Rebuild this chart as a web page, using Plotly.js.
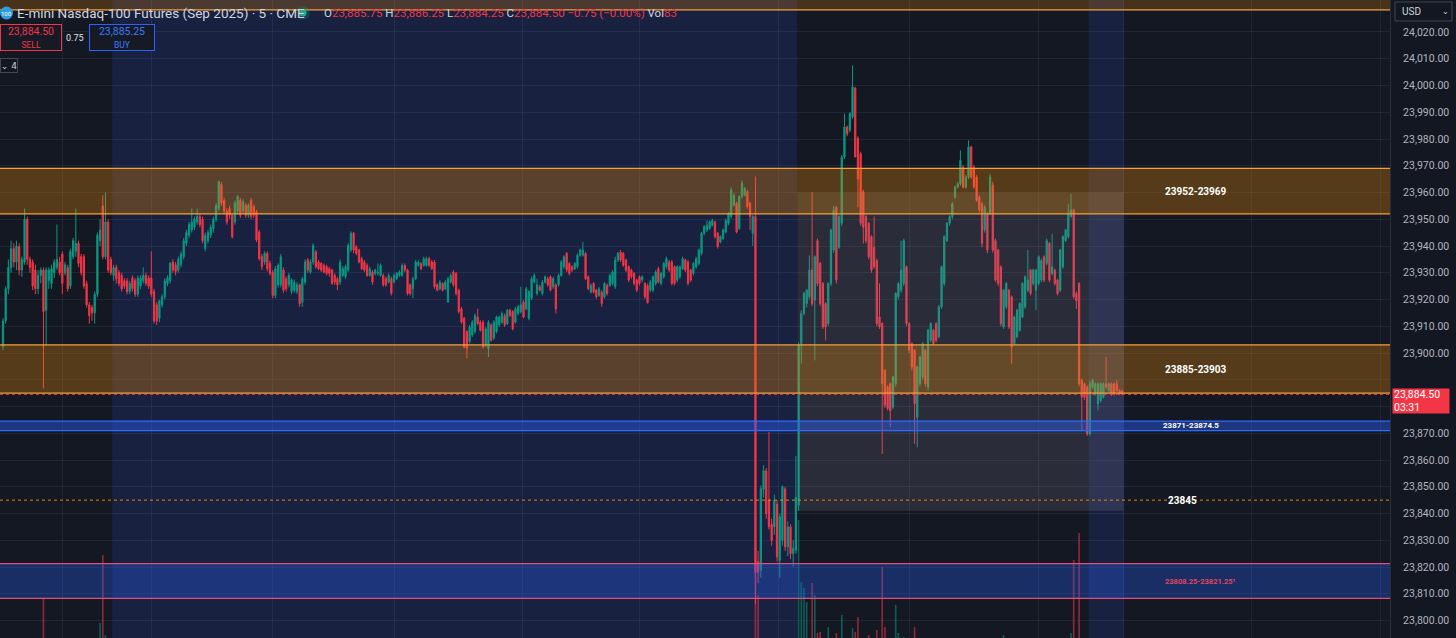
<!DOCTYPE html>
<html><head><meta charset="utf-8">
<script src="https://cdn.plot.ly/plotly-3.0.1.min.js"></script>
<style>html,body{margin:0;padding:0;background:#131722;overflow:hidden}#chart{width:1456px;height:638px}</style>
</head><body><div id="chart"></div>
<script>
// ---- 5-minute candles (oldest -> newest) ----
const openP = [
23902.5,23912,23924,23932,23939,23934,23939.75,23931,23934,23950,
23935,23934,23931,23924,23929,23931,23916,23927,23926,23930,
23932,23934,23937,23930,23932,23925,23936,23938,23941,23936,
23936,23926,23918,23917,23915,23922,23942,23955,23936,23949,
23935,23929,23932,23930,23929,23927,23927,23923,23928,23927,
23922,23925,23927,23929,23928,23928,23923,23918,23913,23918,
23921,23926,23927,23934,23933,23931,23933,23936,23941,23944,
23946,23947,23949,23951,23950,
23939,23942,23944,23946.5,23950,23954,23963,23957,23953,23954,
23951.5,23949,23953,23957,23953,23955.25,23951.5,23957,23954.75,23952.75,
23945.25,23936,23934,23937.25,23933.5,23930.25,23921.5,23925.5,23925.5,23931,
23927.75,23925.5,23923,23923.5,23923,23925.5,23919,23926.5,23934.75,23930.25,
23934,23937.75,23934,23933.5,23932.75,23932.25,23931.5,23931,23929,23927.75,
23926.5,23929,23928.5,23931,23938.5,23944.75,23939.75,23938.5,23935.25,23934,23932.75,23929,23930.25,
23929.75,23929.75,23929,23929,23927.75,23926.5,23927.75,23926.5,23927.75,23929,
23929,23932.75,23931,23925.5,23924,23927.75,23932.75,23933.5,23932.75,23932.75,
23935.25,23934,23934,23925.5,23924,23926,23924,23919,23926.5,23930.25,
23929.75,23923.5,23916.5,23913,23908,23904.25,23906.75,23908,23913.5,23911.5,
23911.5,23903,23901.75,23910.5,23905.5,23908,23910.5,23911.5,23914,23911,
23916,23915.5,23911.5,23914.75,23915.5,23919,23916.5,23913,23920.5,23926.5,
23922.25,23924.75,23922.25,23926.5,23927.75,23928.5,23924.75,23925.5,23925.5,23929,
23932.25,23937.25,23933.5,23932.25,23931.5,23932.25,23936.5,23936.5,23937.25,23928.5,
23922.75,23926,23923.5,23921.5,23922.75,23921,23925.25,23925.25,23926,23924.75,
23934.75,23937.75,23937.25,23934.75,23932.25,23931,23929.75,23927.25,23928.5,23927.25,
23926,23925.25,23923.5,23923.5,23926,23931.5,23926,23928.5,23932.25,23934,
23934,23932.25,23927.25,23928.5,23931.5,23934.75,23934,23931,23929.75,23932.25,
23933.5,23937.25,23944.75,23946,23946.5,23947.75,23949,23944.75,23941.5,23942.75,
23945.25,23948.5,23951,23955.25,23956,23946.5,23958.5,23959,23960.25,23956,23944.75,23951,
23822,23818.75,23849,23856,23845,23836,23835,23843.5,23822.5,23830,23849.25,23827.5,23835,23825,23826.25,23843,
23903.5,23914.75,23918.5,23921,23931,23919.75,23942,23933.5,23926,23918.5,
23911,23926,23938.5,23954.5,23939.5,23948.5,23973.25,23984.5,23983.25,23988.25,
23999,23980.25,23974.5,23960.25,23951,23948.5,23943.5,23939.5,23934.5,23913.5,
23911,23893.5,23887.25,23888.5,23879.75,23888.5,23921,23923.5,23926,23932.25,
23911,23903.5,23901,23876,23888.5,23891,23901,23887.25,23904.75,23908.5,
23911,23906,23917.25,23926,23942,23948.5,23951,23958.25,
23962,23963.25,23969.5,23962,23965.75,23977,23969.5,23965.75,23958.25,23955.75,
23946,23952,23952,23962.75,23942,23938.5,23932.25,23909.75,23917.25,23923.5,
23921,23903.5,23906,23908.5,23913.5,23917.25,23923.5,23931,23926,23923.5,
23926,23927.25,23936,23933.5,23941,23929.75,23931,23927.25,
23923.5,23932.25,23942,23943.5,23951,23953.5,23922.25,23926,23889.75,23888.5,
23887.25,23869.75,23887.25,23884.75,23881,23882.25,23883.5,23888.5,23886,23888.5,
23888.5,23888.5,23886,23885.75
];
const highP = [
23913,23925,23935,23942,23941,23942,23941,23936,23954,23951,
23936,23935,23933,23931,23932,23932,23932,23932,23933,23935,
23948,23936,23938,23934,23933,23939,23943,23954,23942,23937,
23937,23927,23919,23918,23923,23945,23950,23959,23960,23950,
23936,23933,23933,23931,23930,23928,23928,23927,23929,23928,
23929,23929,23932,23930,23929,23938,23924,23919,23920,23922,
23928,23929,23934,23935,23934,23936,23938,23943,23946,23949,
23954,23951,23954,23952,23951,
23945,23946,23948,23951,23956,23964.5,23964,23958,23954,23955,
23952,23957,23959,23958,23957.5,23956,23956,23958,23955.5,23953.5,
23946,23937,23938,23938,23934.5,23931,23932.5,23933.5,23937,23932,
23928.5,23930,23928,23927.5,23926.5,23926,23928.5,23935,23935.5,23935,
23941,23938.5,23934.75,23934,23933.5,23933,23932.25,23931.5,23929.75,23928.5,
23935,23932.5,23933,23941,23945.5,23945.25,23940.25,23939,23936,23934.75,23933.5,23932.25,23931,
23931.5,23933.5,23933.5,23929.75,23928.5,23929.75,23928.5,23929.75,23930.25,23931,
23933.5,23933.5,23931.5,23926,23928.5,23934.75,23934.75,23934,23936,23936,
23936,23934.75,23934.75,23926,23927.25,23926.5,23927.25,23928.5,23929.75,23931,
23930.25,23924,23917.25,23913.5,23908.5,23910.5,23912.25,23914.75,23916.5,23912.25,
23912.25,23909.75,23912.25,23911,23912.25,23914,23914,23915.5,23914.75,23916.5,
23916.5,23916,23917.25,23918,23924.75,23919.75,23924.75,23923.5,23928.5,23929.75,
23927.75,23925.5,23927.25,23929,23928.5,23929,23928.5,23926,23929.75,23934.75,
23936.5,23937.75,23934,23932.75,23934,23937.25,23939,23941.5,23937.75,23929,
23926,23926.5,23924,23924.75,23923.5,23926.5,23926,23929.75,23931,23936,
23937.75,23938.5,23937.75,23935.25,23932.75,23931.5,23930.25,23927.75,23929,23929,
23926.5,23926,23927.25,23929,23931,23932.25,23930.25,23934,23936,23934.75,
23934.75,23932.75,23932.75,23932.75,23936,23935.25,23934.75,23931.5,23934,23936,
23939,23945.25,23947.75,23949.5,23949.5,23950.25,23949.5,23945.25,23944,23946.5,
23950.25,23952.75,23962,23959.75,23956.5,23959,23964.5,23962,23961,23956.5,23951.5,23966,
23826,23850.5,23858,23857,23870.5,23838,23847,23845,23840,23850.5,23850,23837,23836,23830,23861.5,23904,
23916,23923,23924,23936.5,23960.25,23936.5,23942.75,23934,23926.5,23919,
23926.5,23946.5,23955,23955,23951.5,23974,23989.5,23985,23990,24007.5,
23999.5,23981,23975.25,23961,23951.5,23949,23944,23951,23935.25,23926,
23911.5,23894,23888,23889,23891.5,23922.75,23926.5,23942,23942.75,23932.75,
23911.5,23904,23901.5,23895.25,23899,23904,23901.5,23909,23911.5,23909,
23911.5,23918,23932.75,23944,23949,23951.5,23956.5,23962.75,
23964,23975.75,23970.25,23966.5,23979.5,23977.5,23970.25,23966.5,23959,23956.5,
23955.25,23952.75,23967,23964,23942.75,23939,23932.75,23924,23926.5,23924,
23921.5,23914,23916.5,23919,23926.5,23929,23938.5,23931.5,23931.5,23931.5,
23936.5,23935.25,23936.5,23942.75,23941.5,23944.5,23931.5,23927.75,
23939,23944,23946.5,23955.75,23959.5,23954,23923,23926.5,23890.5,23889,
23888,23889.75,23890.5,23889,23889,23889,23889,23898.5,23889,23889,
23889,23889.75,23886.5,23886.25
];
const lowP = [
23901,23911,23922,23930,23932,23931,23929,23928.5,23933,23933,
23930,23923.5,23922,23922,23926,23886.75,23903,23924,23924,23928,
23931,23929,23922,23929,23923,23924,23935,23936,23932,23929,
23924,23917,23911,23912,23911,23921,23940,23935,23935,23930,
23929,23927,23926,23925,23923,23924,23922,23922,23923,23921,
23921,23924,23926,23925,23924,23921,23911,23910.5,23911.5,23917,
23920,23925,23926,23930,23929,23930,23932,23935,23940,23943,
23945,23946,23948,23947,23941,
23938,23941,23943,23945,23949,23953,23955,23952,23948,23950,
23942.75,23948,23952,23950.5,23952,23950.5,23950.5,23950,23950.5,23941.5,
23934.5,23931,23933,23930.5,23929,23920.5,23920.5,23924.5,23924.5,23922.5,
23923,23924.5,23922,23922.5,23922,23917.25,23917.25,23925.5,23930,23929.5,
23933,23931.5,23931,23930.25,23929.75,23929,23928.5,23925.5,23925.5,23923.5,
23925.5,23928.5,23927.75,23930.25,23937.75,23937.25,23936.5,23933.5,23931,23930.25,23928.5,23928.5,23925.5,
23929,23929,23928.5,23924.75,23924.75,23926,23921.5,23926,23927.25,23928.5,
23928.5,23930.25,23921.5,23921.5,23920.5,23927.25,23932.25,23931,23932.25,23932.25,
23932.25,23931,23924,23923,23923.5,23923,23923.5,23919,23926,23924.75,
23921.5,23914.75,23911,23901.75,23898,23903.5,23906,23907.25,23910.5,23908,
23901.75,23902.25,23898.5,23904.25,23904.75,23907.25,23909.75,23911,23909.75,23910.5,
23913.5,23908.5,23911,23914,23914.75,23913,23916,23912.25,23919.75,23926,
23921.5,23923,23921.5,23926,23924.75,23923,23924,23914.75,23924.75,23928.5,
23931.5,23930.25,23929,23930.25,23931,23931.5,23936,23936,23927.25,23923.5,
23922.25,23922.25,23920.25,23921,23917.25,23920.25,23921.5,23924.75,23925.25,23924,
23934,23934,23932.25,23930.25,23926.5,23927.75,23925.25,23922.75,23925.25,23926.5,
23920.25,23918.5,23922.75,23922.75,23925.25,23926,23925.25,23927.75,23931.5,23930.25,
23925.25,23925.25,23926.5,23927.75,23931,23930.25,23925.25,23926.5,23929,23931.5,
23932.75,23936.5,23944,23945.25,23946,23947.25,23942.75,23939,23941,23942.25,
23944.75,23947.75,23950.25,23954.75,23944.75,23946,23957.75,23958.5,23954,23946,23940,23806,
23814,23816,23846,23838,23834,23828,23832,23822,23816,23828,23826,23824,23823,23820,23825,23841,
23896,23914,23917,23920,23917.5,23897.25,23925,23917.5,23909,23904.75,
23910,23925,23937.5,23926,23939,23947.5,23972.5,23981,23982.5,23987.5,
23973.25,23954.5,23947.5,23941,23941,23935,23930,23931.5,23910,23909,
23862.25,23879.5,23878.5,23872.25,23879,23887.5,23920,23922.5,23925,23910,
23900,23893.5,23866,23864.75,23887.5,23890,23887.5,23886,23904,23903,
23904,23905.5,23916.5,23925,23941.5,23947.5,23950,23957.5,
23961.5,23962.5,23961.5,23961.5,23965,23965,23961.5,23956.5,23952.5,23939.5,
23945,23937.25,23951.5,23937.5,23926.5,23925,23910,23909,23916.5,23909,
23896,23903,23905.5,23908,23913,23916.5,23922.75,23921.5,23925.25,23916,
23925.25,23926.5,23926.5,23932.75,23926.5,23929,23925.25,23921.5,
23922.75,23931.5,23941.5,23942.75,23950.5,23920.25,23916.5,23887.5,23871,23882.5,
23869,23869,23886.5,23884,23878.5,23881.5,23883,23886.5,23885.5,23884,
23884,23885.5,23884.25,23884.25
];
const closeP = [
23912,23924,23932,23939,23934,23940,23931,23935,23950,23935,
23932,23925,23924,23929,23931,23915.5,23931,23931,23931.5,23934,
23935,23930,23926,23933,23924,23938,23942,23941,23933.5,23930,
23925,23918,23914,23915,23922,23944,23946,23936,23949,23931,
23930,23932,23927.75,23926,23924,23925,23923,23926,23924,23922,
23928,23928,23929,23926,23925,23922,23912,23912,23919.5,23921,
23927,23928,23933.5,23931,23930.5,23935,23937,23942,23945,23948,
23949,23950,23951,23948,23942,
23944,23945,23947,23950,23955,23964,23956,23953,23949,23951.5,
23943.5,23956,23958.5,23951.5,23956.5,23951.5,23955.25,23951,23951.5,23942.25,
23935.25,23932.25,23937.25,23931.5,23929.75,23921.5,23931.5,23932.75,23936,23923.5,
23924,23929,23927.25,23926.5,23925.5,23918.5,23927.75,23934,23931,23934,
23940.25,23932.25,23931.5,23931,23930.25,23929.75,23929.75,23926,23926.5,23925.5,
23934,23931.5,23932.25,23940.25,23944.75,23938.5,23937.25,23934,23931.5,23931,23929,23931.5,23926.5,
23931,23930.25,23932.75,23925.5,23925.5,23929,23922.25,23929,23929.75,23930.25,
23932.75,23931,23922.25,23922.25,23927.75,23934,23934,23931.5,23935.25,23935.25,
23932.75,23931.5,23924.75,23923.5,23926.5,23923.5,23926.5,23927.75,23929,23925.5,
23922.25,23915.5,23911.5,23902.25,23901.75,23909.75,23911.5,23914,23911,23908.5,
23902.25,23909,23911.5,23904.75,23911.5,23913.5,23913.5,23914.75,23910.5,23916,
23914,23909,23916.5,23917.25,23918,23913.5,23924,23923,23927.75,23929,
23925.5,23923.5,23926.5,23928.5,23925.5,23923.5,23927.75,23916.5,23929,23934,
23936,23931,23929.75,23931,23933.5,23936.5,23938.5,23938.5,23927.75,23924,
23925.25,23922.75,23921,23924,23918.5,23926,23922.25,23929,23930.25,23934.75,
23937.25,23934.75,23932.75,23931,23927.25,23928.5,23926,23923.5,23926,23928.5,
23921,23918.75,23926.5,23928.5,23930.25,23926.5,23929.75,23933.5,23935.25,23931,
23926,23926,23932.25,23932.25,23935.25,23931,23926,23927.25,23933.5,23935.25,
23938.5,23944.75,23947.25,23947.75,23949,23949.5,23943.5,23939.75,23943.5,23946,
23949.5,23952.25,23961,23959,23945.25,23958.5,23963.5,23961.5,23954.75,23951,23951,23818,
23818,23849.25,23856,23840,23835,23830,23845,23823.75,23838.75,23850,23827.5,23835,23825,23827,23846,23903,
23914.75,23922.25,23923.5,23931,23918.5,23936,23926,23918.5,23909.75,23909.75,
23926,23946,23953.5,23927.25,23951,23973.25,23984.5,23982,23989.5,23999.5,
23973.25,23965,23948.5,23947,23942,23936,23931,23932.25,23911,23909.75,
23888.5,23880.5,23879.25,23878.5,23891,23922.25,23926,23931,23942,23911,
23901,23894.75,23881,23894.75,23898.5,23903.5,23888.5,23908.5,23911,23903.5,
23904.75,23917.25,23932.25,23943.5,23948.5,23951,23955.75,23962,
23963.25,23972,23962,23965.75,23977,23965.75,23962,23957,23953.5,23941,
23954.5,23938.5,23965.75,23938.5,23927.25,23926,23911,23923.5,23926,23909.75,
23902.25,23913.5,23916,23918.5,23926,23928.5,23927.25,23922.25,23931,23931,
23936,23934.5,23927.25,23942,23927.25,23932.25,23926,23922.25,
23938.5,23943.5,23946,23952,23953.5,23921,23919.5,23888.5,23883.5,23883.5,
23869.75,23888.5,23889.75,23888.5,23888.5,23888.5,23888.5,23887.25,23888.5,23884.75,
23884.75,23886,23884.75,23884.5
];

// volume bars that rise into view (the rest sit below the visible pane edge)
const volIdx = [15, 36, 37, 38, 279, 280, 295, 296, 297, 298, 300, 301, 302, 303, 306, 309, 311, 315, 316, 317, 321, 324, 326, 327, 331, 332, 334, 338, 371, 396, 397, 399];
const volVal = [4000, 2750, 6150, 2150, 12000, 4150, 7900, 4800, 4500, 3800, 4750, 4150, 2250, 2300, 2550, 2250, 3150, 2500, 2300, 3050, 2150, 2400, 5550, 2550, 3650, 2250, 2050, 2550, 2150, 2250, 5900, 7250];

// drawn zones (price ranges) and their labels
const zoneLow    = [23952, 23885, 23871, 23808.25, 24028.25];
const zoneHigh   = [23969, 23903, 23874.5, 23821.25, 24060];
const zoneLabels = ['23952-23969', '23885-23903', '23871-23874.5', '23808.25-23821.25\u00b9', ''];
const levelPrice = 23845;
const levelLabel = '23845';
const lastPrice = 23884.5;
const lastPriceText = '23,884.50';
const countdown = '03:31';

// price axis ticks
const priceTicks = [23800, 23810, 23820, 23830, 23840, 23850, 23860, 23870, 23880, 23890, 23900, 23910,
  23920, 23930, 23940, 23950, 23960, 23970, 23980, 23990, 24000, 24010, 24020];

// shaded price/time box (candle index range, price range)
const boxIdx = [294.6, 415.5];
const boxPrice = [23841, 23960];

// session background spans (candle index)
const sessionSpans = [[40.5, 294.5], [402.5, 415.7]];
// vertical grid line positions (candle index)
const gridIdx = [22, 55, 100, 145, 192.5, 236, 287.5, 336, 384, 415.3, 463.1, 510.6];

// header
const symbolTitle = 'E-mini Nasdaq-100 Futures (Sep 2025) \u00b7 5 \u00b7 CME';
const ohlcLetters = ['O', 'H', 'L', 'C'];
const ohlcValues = ['23,885.75', '23,886.25', '23,884.25', '23,884.50'];
const changeText = '\u22120.75 (\u22120.00%)';
const volText = '83';
const sellPrice = '23,884.50', buyPrice = '23,885.25', spreadText = '0.75';

// ---------- drawing ----------
const N = Math.min(openP.length, highP.length, lowP.length, closeP.length);
const xIdx = Array.from({length: N}, (_, i) => i);
const UP = '#089981', DN = '#f23645';
const FONT = 'Roboto, "Liberation Sans", Arial, sans-serif';
const PW = 1390, PH = 638;
const px = v => v / PW, py = v => 1 - v / PH;
const fmt = v => v.toLocaleString('en-US', {minimumFractionDigits: 2, maximumFractionDigits: 2});

const volColors = volIdx.map(i => closeP[i] >= openP[i] ? 'rgba(8,153,129,0.55)' : 'rgba(242,54,69,0.55)');

const traces = [
  {type: 'bar', x: volIdx, y: volVal, yaxis: 'y', xaxis: 'x', width: 0.6,
   marker: {color: volColors, line: {width: 0}}, hoverinfo: 'skip', showlegend: false},
  {type: 'candlestick', x: xIdx, open: openP.slice(0, N), high: highP.slice(0, N), low: lowP.slice(0, N), close: closeP.slice(0, N),
   xaxis: 'x', yaxis: 'y2', whiskerwidth: 0,
   increasing: {line: {color: UP, width: 1}, fillcolor: UP},
   decreasing: {line: {color: DN, width: 1}, fillcolor: DN},
   hoverinfo: 'skip', showlegend: false}
];

const shapes = [];
sessionSpans.forEach(s => shapes.push({type: 'rect', xref: 'x', yref: 'paper', x0: s[0], x1: s[1], y0: 0, y1: 1,
  fillcolor: '#192141', line: {width: 0}, layer: 'below'}));
shapes.push({type: 'rect', xref: 'x', yref: 'y2', x0: boxIdx[0], x1: boxIdx[1], y0: boxPrice[0], y1: boxPrice[1],
  fillcolor: 'rgba(128,132,146,0.2)', line: {width: 0}, layer: 'above'});
const zoneFill = ['rgba(255,152,0,0.28)', 'rgba(255,152,0,0.28)', 'rgba(41,98,255,0.42)', 'rgba(41,98,255,0.30)', 'rgba(255,152,0,0.22)'];
const zoneLine = ['#f5a03a', '#f5a03a', '#2f6bff', '#e0507a', '#f5a03a'];
zoneLow.forEach((lo, k) => {
  const hi = zoneHigh[k];
  shapes.push({type: 'rect', xref: 'paper', yref: 'y2', x0: 0, x1: 1, y0: lo, y1: hi, fillcolor: zoneFill[k], line: {width: 0}, layer: 'above'});
  shapes.push({type: 'line', xref: 'paper', yref: 'y2', x0: 0, x1: 1, y0: lo, y1: lo, line: {color: zoneLine[k], width: 1.2}, layer: 'above'});
  shapes.push({type: 'line', xref: 'paper', yref: 'y2', x0: 0, x1: 1, y0: hi, y1: hi, line: {color: zoneLine[k], width: 1.2}, layer: 'above'});
});
shapes.push({type: 'line', xref: 'paper', yref: 'y2', x0: 0, x1: 1, y0: levelPrice, y1: levelPrice,
  line: {color: 'rgba(255,152,0,0.85)', width: 1, dash: 'dot'}, layer: 'above'});
shapes.push({type: 'line', xref: 'paper', yref: 'y2', x0: 0, x1: 1, y0: lastPrice, y1: lastPrice,
  line: {color: 'rgba(242,54,69,0.9)', width: 1, dash: 'dot'}, layer: 'above'});
shapes.push({type: 'circle', xref: 'paper', yref: 'paper', xsizemode: 'pixel', ysizemode: 'pixel',
  xanchor: px(6.5), yanchor: py(13), x0: -6.5, x1: 6.5, y0: -6.5, y1: 6.5, fillcolor: '#2f9be0', line: {width: 0}});
shapes.push({type: 'circle', xref: 'paper', yref: 'paper', xsizemode: 'pixel', ysizemode: 'pixel',
  xanchor: px(303), yanchor: py(13), x0: -7, x1: 7, y0: -7, y1: 7, fillcolor: 'rgba(8,153,129,0.22)', line: {width: 0}});
shapes.push({type: 'circle', xref: 'paper', yref: 'paper', xsizemode: 'pixel', ysizemode: 'pixel',
  xanchor: px(303), yanchor: py(13), x0: -3.5, x1: 3.5, y0: -3.5, y1: 3.5, fillcolor: '#22ab94', line: {width: 0}});
shapes.push({type: 'rect', xref: 'paper', yref: 'paper', x0: px(1395), x1: px(1452), y0: py(21), y1: py(2),
  fillcolor: '#131722', line: {color: '#434651', width: 1}});

const g = (t, c) => `<span style="color:${c}">${t}</span>`;
const GRY = '#d1d4dc';
let ohlcText = '';
ohlcLetters.forEach((l, k) => { ohlcText += g(l, GRY) + g(ohlcValues[k], DN) + ' '; });
ohlcText += g(changeText, DN) + ' ' + g('Vol', GRY) + g(volText, DN);

const ann = [];
ann.push({xref: 'paper', yref: 'paper', x: px(6.5), y: py(13), text: '100', showarrow: false, font: {family: FONT, size: 6, color: '#ffffff'}, xanchor: 'center', yanchor: 'middle'});
ann.push({xref: 'paper', yref: 'paper', x: px(15), y: py(13), text: symbolTitle, showarrow: false, xanchor: 'left', yanchor: 'middle', font: {family: FONT, size: 13.5, color: '#d1d4dc'}});
ann.push({xref: 'paper', yref: 'paper', x: px(322), y: py(13), text: ohlcText, showarrow: false, xanchor: 'left', yanchor: 'middle', font: {family: FONT, size: 11.5, color: GRY}});
ann.push({xref: 'paper', yref: 'paper', x: px(31), y: py(38), text: sellPrice + '<br><span style="font-size:8.5px">SELL</span>', showarrow: false,
  xanchor: 'center', yanchor: 'middle', align: 'center', width: 58, height: 23, bgcolor: '#161a25', bordercolor: DN, borderwidth: 1, borderpad: 1,
  font: {family: FONT, size: 10.5, color: '#f23645'}});
ann.push({xref: 'paper', yref: 'paper', x: px(75), y: py(38), text: spreadText, showarrow: false, xanchor: 'center', yanchor: 'middle', font: {family: FONT, size: 9, color: '#e0e3eb'}});
ann.push({xref: 'paper', yref: 'paper', x: px(122), y: py(38), text: buyPrice + '<br><span style="font-size:8.5px">BUY</span>', showarrow: false,
  xanchor: 'center', yanchor: 'middle', align: 'center', width: 62, height: 23, bgcolor: '#161a25', bordercolor: '#2962ff', borderwidth: 1, borderpad: 1,
  font: {family: FONT, size: 10.5, color: '#3b7bff'}});
ann.push({xref: 'paper', yref: 'paper', x: px(9), y: py(66), text: '\u2304 4', showarrow: false, xanchor: 'center', yanchor: 'middle',
  width: 16, height: 13, bgcolor: '#131722', bordercolor: '#434651', borderwidth: 1, borderpad: 0,
  font: {family: 'DejaVu Sans, ' + FONT, size: 9, color: '#d1d4dc'}});
ann.push({xref: 'paper', yref: 'paper', x: px(1400), y: py(11.5), text: 'USD', showarrow: false, xanchor: 'left', yanchor: 'middle', font: {family: FONT, size: 10, color: '#d1d4dc'}});
ann.push({xref: 'paper', yref: 'paper', x: px(1445), y: py(11), text: '\u2304', showarrow: false, xanchor: 'center', yanchor: 'middle', font: {family: 'DejaVu Sans', size: 8, color: '#d1d4dc'}});
const labelX = [1196, 1196, 1191, 1200, 0];
const labelSize = [10, 10, 8, 7.5, 10];
const labelColor = ['#ffffff', '#ffffff', '#ffffff', '#e2455f', '#ffffff'];
zoneLabels.forEach((t, k) => {
  if (!t) return;
  ann.push({xref: 'paper', yref: 'y2', x: px(labelX[k]), y: (zoneLow[k] + zoneHigh[k]) / 2, text: '<b>' + t + '</b>', showarrow: false,
    xanchor: 'center', yanchor: 'middle', font: {family: FONT, size: labelSize[k], color: labelColor[k]}});
});
ann.push({xref: 'paper', yref: 'y2', x: px(1182), y: levelPrice, text: '<b>' + levelLabel + '</b>', showarrow: false,
  xanchor: 'center', yanchor: 'middle', font: {family: FONT, size: 10, color: '#ffffff'}});
ann.push({xref: 'paper', yref: 'y2', x: px(1392), y: lastPrice, yshift: 6, text: lastPriceText + '<br>' + countdown, showarrow: false,
  xanchor: 'left', yanchor: 'top', align: 'left', width: 54, height: 22, bgcolor: '#f23645', borderpad: 1,
  font: {family: FONT, size: 10.5, color: '#ffffff'}});

// tick label under the last-price tag is covered in the reference, so it is left blank
const tickText = priceTicks.map(v => Math.abs(v - lastPrice) < 6 ? '' : fmt(v));

const layout = {
  width: 1456, height: 638,
  margin: {l: 0, r: 66, t: 0, b: 0, pad: 0},
  paper_bgcolor: '#131722', plot_bgcolor: '#141823',
  showlegend: false, hovermode: false, dragmode: false,
  boxgap: 0.35,
  xaxis: {range: [-1.11, 514.28], rangeslider: {visible: false}, showticklabels: false, ticks: '',
    tickmode: 'array', tickvals: gridIdx, showgrid: true, gridcolor: 'rgba(120,130,160,0.13)', gridwidth: 1,
    zeroline: false, showline: false, fixedrange: true},
  yaxis: {range: [2000, 33900], visible: false, showgrid: false, zeroline: false, fixedrange: true},
  yaxis2: {overlaying: 'y', side: 'right', anchor: 'x', range: [23793.46, 24031.96],
    tickmode: 'array', tickvals: priceTicks, ticktext: tickText,
    showgrid: true, gridcolor: 'rgba(120,130,160,0.13)', gridwidth: 1, zeroline: false,
    ticks: '', ticklabelstandoff: 10, showline: true, linecolor: '#2a2e39', linewidth: 1,
    tickfont: {family: FONT, size: 10.5, color: '#b2b5be'}, fixedrange: true},
  shapes: shapes,
  annotations: ann
};

Plotly.newPlot('chart', traces, layout, {staticPlot: true, displayModeBar: false, responsive: false});
</script>
</body></html>
